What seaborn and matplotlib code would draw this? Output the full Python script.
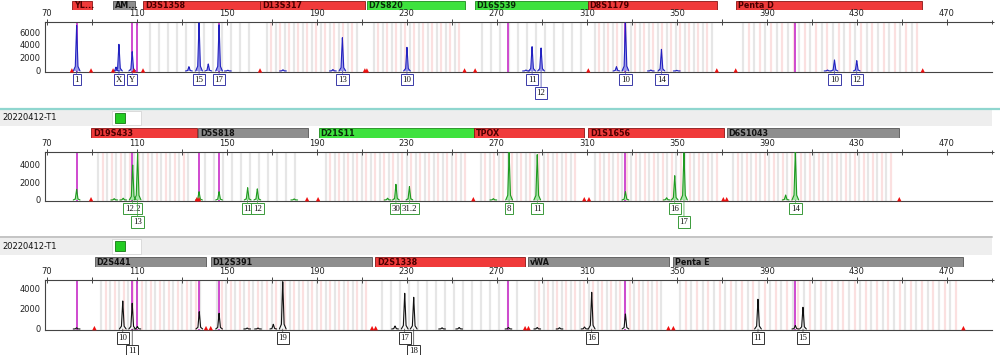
import numpy as np
import pandas as pd
import matplotlib
matplotlib.use('Agg')
import matplotlib.pyplot as plt
import matplotlib.patches as mpatches
import seaborn as sns

sns.set_style('white')
plt.rcParams['font.family'] = ['DejaVu Sans']

sample = '20220412-T1'

# ---- markers (bp ranges) ----
mk1_names = ['YL...', 'AM...', 'D3S1358', 'D13S317', 'D7S820', 'D16S539', 'D8S1179', 'Penta D']
mk1_start = [81.2, 99.5, 112.8, 164.8, 212.3, 260.3, 310.5, 376.4]
mk1_end = [90.1, 109.2, 164.8, 211.4, 255.9, 310.5, 367.9, 459.0]
mk1_col = ['red', 'gray', 'red', 'red', 'green', 'green', 'red', 'red']
mk1_rep = [0, 0, 4, 4, 4, 4, 4, 5]
mk1_micro = [0, 0, 0, 1, 1, 0, 1, 1]

mk2_names = ['D19S433', 'D5S818', 'D21S11', 'TPOX', 'D1S1656', 'D6S1043']
mk2_start = [89.8, 137.4, 190.9, 259.9, 310.7, 372.2]
mk2_end = [136.8, 186.0, 259.9, 308.9, 371.0, 448.9]
mk2_col = ['red', 'gray', 'green', 'red', 'red', 'gray']
mk2_rep = [4, 4, 4, 4, 4, 4]
mk2_micro = [1, 0, 1, 1, 1, 1]

mk3_names = ['D2S441', 'D12S391', 'D2S1338', 'vWA', 'Penta E']
mk3_start = [91.3, 142.9, 215.9, 284.0, 348.5]
mk3_end = [140.8, 214.6, 282.7, 346.6, 477.4]
mk3_col = ['gray', 'gray', 'red', 'gray', 'gray']
mk3_rep = [4, 4, 4, 4, 5]
mk3_micro = [1, 1, 0, 1, 1]

# ---- peaks (bp, RFU, allele call, label row) ----
pk1_bp = [83.3, 100.8, 102.1, 108.0, 133.2, 137.7, 141.8, 146.6, 150.5, 175.0, 197.2, 201.4,
          230.1, 283.0, 285.7, 289.7, 323.2, 327.2, 338.5, 343.2, 350.0, 417.0, 420.1, 430.0]
pk1_rfu = [7000, 600, 4100, 2970, 660, 7400, 1080, 7100, 120, 180, 220, 5120,
           3640, 150, 3740, 3540, 660, 7400, 150, 3330, 100, 150, 1700, 1590]
pk1_call = ['1', '', 'X', 'Y', '', '15', '', '17', '', '', '', '13',
            '10', '', '11', '12', '', '10', '', '14', '', '', '10', '12']
pk1_row = [0, 0, 0, 0, 0, 0, 0, 0, 0, 0, 0, 0,
           0, 0, 0, 1, 0, 0, 0, 0, 0, 0, 0, 0]

pk2_bp = [83.3, 100.0, 104.0, 108.2, 110.4, 137.7, 146.6, 159.3, 163.6, 180.0, 221.5, 225.2,
          231.2, 268.5, 275.5, 288.0, 327.2, 345.5, 349.1, 353.2, 398.4, 402.7]
pk2_rfu = [1200, 150, 200, 3930, 5250, 930, 930, 1380, 1250, 120, 200, 1760,
           1500, 150, 5400, 5100, 930, 250, 2730, 5300, 560, 5400]
pk2_call = ['', '', '', '12.2', '13', '', '', '11', '12', '', '', '30',
            '31.2', '', '8', '11', '', '', '16', '17', '', '14']
pk2_row = [0, 0, 0, 0, 1, 0, 0, 0, 0, 0, 0, 0,
           0, 0, 0, 0, 0, 0, 0, 1, 0, 0]

pk3_bp = [83.3, 103.8, 108.0, 110.3, 137.8, 146.6, 159.1, 163.9, 170.7, 174.9, 224.8, 229.1,
          233.1, 245.7, 253.3, 275.2, 288.0, 297.9, 309.0, 312.2, 327.2, 386.1, 402.7, 406.1]
pk3_rfu = [120, 2800, 2570, 250, 1730, 1570, 100, 100, 470, 4730, 300, 3570,
           3170, 120, 150, 150, 150, 130, 200, 3670, 1500, 2970, 350, 2170]
pk3_call = ['', '10', '11', '', '', '', '', '', '', '19', '', '17',
            '18', '', '', '', '', '', '', '16', '', '11', '', '15']
pk3_row = [0, 0, 1, 0, 0, 0, 0, 0, 0, 0, 0, 0,
           1, 0, 0, 0, 0, 0, 0, 0, 0, 0, 0, 0]

# size-standard bleed lines and off-ladder flags
mg1 = [83.3, 108.0, 110.2, 146.6, 275.2, 327.2, 402.5]
mg2 = [83.3, 107.9, 137.7, 146.6, 327.2]
mg3 = [83.3, 108.0, 110.3, 137.8, 146.6, 275.2, 327.2, 402.7]

tri1 = [81.2, 89.7, 99.5, 108.8, 112.8, 164.8, 211.4, 212.3, 255.7, 260.4, 310.7, 367.8, 376.2, 459.3]
tri2 = [89.7, 136.7, 137.7, 185.7, 190.6, 259.6, 308.9, 311.0, 370.7, 372.2, 448.9]
tri3 = [91.2, 140.8, 142.9, 214.6, 216.2, 282.6, 284.1, 346.3, 348.5, 477.4]

XLIM = (69.24, 490.1)
BAR_FC = {'red': '#f03a3a', 'gray': '#8e8e8e', 'green': '#3ee23e'}
BAR_EC = {'red': '#8a1515', 'gray': '#555555', 'green': '#1d8a1d'}
BAR_TX = {'red': '#4a0000', 'gray': '#111111', 'green': '#0a2a0a'}

# peak outline shape (bp offsets, fraction of height)
SHAPE_DX = [-1.5, -0.6, -0.2, 0.0, 0.2, 0.6, 1.5]
SHAPE_FY = [0.0, 0.1, 0.7, 1.0, 0.7, 0.1, 0.0]

fig = plt.figure(figsize=(10, 3.55), dpi=100)

# background layer in pixel coords (sample rows)
ov = fig.add_axes([0, 0, 1, 1], zorder=-1)
ov.set_xlim(0, 1000)
ov.set_ylim(355, 0)
ov.axis('off')
ov.plot([0, 1000], [108.6, 108.6], color='#8fd6cf', lw=1.6)
ov.plot([0, 992], [236.5, 236.5], color='#c4c4c4', lw=1.4)
for top, bot in [(110, 125.5), (237.5, 255)]:
    ov.add_patch(mpatches.Rectangle((0, top), 992, bot - top, fc='#eeeeee', ec='none'))
    mid = (top + bot) / 2
    ov.text(2, mid, sample, fontsize=6, va='center', ha='left', color='#111111')
    ov.add_patch(mpatches.Rectangle((112, top + 1), 29, bot - top - 2, fc='white', ec='#d0d0d0', lw=0.5))
    ov.add_patch(mpatches.Rectangle((115, mid - 5), 10, 10, fc='#22cc22', ec='#127712', lw=0.6))


def header(y0, h, names, start, end, col):
    hx = fig.add_axes([0.045, y0, 0.947, h])
    hx.set_xlim(*XLIM)
    hx.set_ylim(0, 1)
    hx.axis('off')
    st = np.array(start)
    en = np.array(end)
    hx.barh(0.5, en - st, left=st, height=1.0,
            color=[BAR_FC[c] for c in col], edgecolor=[BAR_EC[c] for c in col], lw=0.6)
    for n, s, e, c in zip(names, st, en, col):
        t = hx.text(s + 0.8, 0.5, n, fontsize=5.8, fontweight='bold', va='center', ha='left',
                    color=BAR_TX[c])
        t.set_clip_path(mpatches.Rectangle((s, 0), e - s, 1, transform=hx.transData))


def panel(y0, h, ytop, yticks, bp, rfu, call, row, mg, tri, start, end, rep, micro,
          line_c, fill_c, box_c):
    ax = fig.add_axes([0.045, y0, 0.947, h])
    ax.set_xlim(*XLIM)
    ax.set_ylim(-80, ytop)
    # allele bins
    grey_b, pink_b = [], []
    for s, e, r, m in zip(start, end, rep, micro):
        if r == 0:
            continue
        for b in np.arange(s + 3, e - 2, r):
            grey_b.append(b)
            if m and b + r / 2 < e - 2:
                pink_b.append(b + r / 2)
    tr = ax.get_xaxis_transform()
    ax.vlines(grey_b, 0, 1, transform=tr, colors='#e6e6e6', lw=1.6, zorder=0)
    ax.vlines(pink_b, 0, 1, transform=tr, colors='#fbe0e0', lw=1.6, zorder=0)
    ax.vlines(mg, 0, 1, transform=tr, colors='#cc3ccc', lw=1.3, zorder=1)
    # peaks
    rows = []
    for i, (b, v) in enumerate(zip(bp, rfu)):
        for dx, fy in zip(SHAPE_DX, SHAPE_FY):
            rows.append((i, b + dx, v * fy))
    df = pd.DataFrame(rows, columns=['peak', 'bp', 'rfu'])
    for i, g in df.groupby('peak'):
        ax.fill(g['bp'], g['rfu'], color=fill_c, lw=0, zorder=2)
    sns.lineplot(data=df, x='bp', y='rfu', units='peak', estimator=None, sort=False,
                 color=line_c, lw=0.8, ax=ax, legend=False, zorder=3)
    # off-ladder flags
    sns.scatterplot(x=tri, y=[90] * len(tri), marker='^', s=10, color='#ee1111',
                    edgecolor='none', ax=ax, zorder=4, clip_on=False)
    # allele call boxes
    for b, c, r in zip(bp, call, row):
        if not c:
            continue
        off = -6.3 if r == 0 else -16.0
        ax.annotate(c, xy=(b, 0), xytext=(0, off), textcoords='offset points',
                    ha='center', va='center', fontsize=6.3, family='Liberation Serif', color='#111111',
                    bbox=dict(boxstyle='square,pad=0.2', fc='white', ec=box_c, lw=0.7),
                    arrowprops=dict(arrowstyle='-', color=box_c, lw=0.5, shrinkA=0, shrinkB=0),
                    annotation_clip=False)
    # ruler on top
    ax.xaxis.tick_top()
    ax.set_xticks(np.arange(70, 471, 40))
    ax.set_xticks(np.arange(90, 490, 40), minor=True)
    ax.tick_params(axis='x', which='both', direction='inout', length=4, width=0.7,
                   colors='#444444', labelsize=6, pad=1, labelcolor='#222222')
    ax.set_yticks(yticks)
    ax.set_yticklabels([str(v) for v in yticks])
    ax.tick_params(axis='y', direction='out', length=2, width=0.6, labelsize=6, pad=1,
                   colors='#444444', labelcolor='#222222')
    ax.set_xlabel('')
    ax.set_ylabel('')
    for side in ['top', 'left', 'bottom']:
        ax.spines[side].set_color('#444444')
        ax.spines[side].set_linewidth(0.8)
    ax.spines['right'].set_visible(False)
    ax.plot([XLIM[1]], [ytop], marker='+', color='#444444', ms=3, mew=0.7, clip_on=False)
    return ax


header(1 - 9.5 / 355, 9 / 355, mk1_names, mk1_start, mk1_end, mk1_col)
header(1 - 138 / 355, 10 / 355, mk2_names, mk2_start, mk2_end, mk2_col)
header(1 - 267.3 / 355, 10 / 355, mk3_names, mk3_start, mk3_end, mk3_col)

panel(1 - 71.5 / 355, 49.5 / 355, 7540, [0, 2000, 4000, 6000],
      pk1_bp, pk1_rfu, pk1_call, pk1_row, mg1, tri1, mk1_start, mk1_end, mk1_rep, mk1_micro,
      '#2222c0', '#9a9ae8', '#3a3aa8')
panel(1 - 200.7 / 355, 49 / 355, 5430, [0, 2000, 4000],
      pk2_bp, pk2_rfu, pk2_call, pk2_row, mg2, tri2, mk2_start, mk2_end, mk2_rep, mk2_micro,
      '#1f9a1f', '#a6e6a6', '#3a9a3a')
panel(1 - 329.8 / 355, 49.8 / 355, 4900, [0, 2000, 4000],
      pk3_bp, pk3_rfu, pk3_call, pk3_row, mg3, tri3, mk3_start, mk3_end, mk3_rep, mk3_micro,
      '#111111', '#f4f4f4', '#333333')

fig.savefig('out.png', dpi=100)
